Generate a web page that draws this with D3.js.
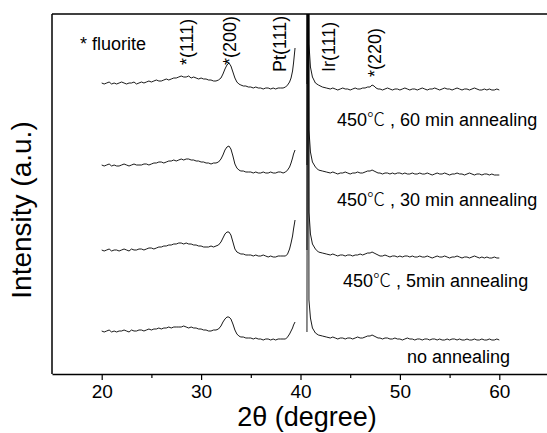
<!DOCTYPE html>
<html>
<head>
<meta charset="utf-8">
<script src="https://cdn.jsdelivr.net/npm/d3@7"></script>
<style>
  body { margin: 0; background: #fff; }
  text { font-family: Arial, "Liberation Sans", "Noto Sans CJK SC", sans-serif; fill: #000; }
</style>
</head>
<body>
<svg id="chart" width="547" height="433"></svg>
<script>
// 2theta grids (degree): low-angle part up to Pt(111), high-angle part from Ir(111)
var twoThetaLow = [
  20, 20.25, 20.5, 20.75, 21, 21.25, 21.5, 21.75, 22, 22.25, 22.5, 22.75, 23, 23.25, 23.5, 23.75,
  24, 24.25, 24.5, 24.75, 25, 25.25, 25.5, 25.75, 26, 26.25, 26.5, 26.75, 27, 27.25, 27.5, 27.75,
  28, 28.25, 28.5, 28.75, 29, 29.25, 29.5, 29.75, 30, 30.25, 30.5, 30.75, 31, 31.25, 31.5, 31.75,
  32,
  32.2, 32.4, 32.6, 32.8, 33.0, 33.2, 33.4, 33.6, 33.8, 34.0, 34.25, 34.5, 34.75,
  35, 35.25, 35.5, 35.75, 36, 36.25, 36.5, 36.75, 37, 37.25, 37.5, 37.75, 38, 38.25, 38.5,
  38.7, 38.9, 39.05, 39.2, 39.3, 39.45];
var twoThetaHigh = [
  40.65, 40.75, 40.85, 41.0, 41.2, 41.5, 41.8, 42.2, 42.6,
  43, 43.25, 43.5, 43.75, 44, 44.25, 44.5, 44.75, 45, 45.25, 45.5, 45.75, 46, 46.25, 46.5, 46.75,
  47, 47.2, 47.4, 47.6, 47.8,
  48, 48.25, 48.5, 48.75, 49, 49.25, 49.5, 49.75, 50, 50.25, 50.5, 50.75, 51, 51.25, 51.5, 51.75,
  52, 52.25, 52.5, 52.75, 53, 53.25, 53.5, 53.75, 54, 54.25, 54.5, 54.75, 55, 55.25, 55.5, 55.75,
  56, 56.25, 56.5, 56.75, 57, 57.25, 57.5, 57.75, 58, 58.25, 58.5, 58.75, 59, 59.25, 59.5, 59.75,
  60];

// intensity (a.u., stacked) for each sample
var min60Low = [
  291, 290, 291, 292, 290, 291, 290, 291, 292, 291, 290, 291, 291, 292, 290, 291,
  292, 291, 292, 293, 292, 293, 294, 293, 293, 294, 295, 294, 295, 296, 296, 297,
  298, 297, 297, 298, 296, 297, 296, 295, 296, 295, 295, 294, 294, 293, 293, 294,
  296,
  300, 305, 309, 311, 308, 302, 296, 292, 290, 289, 288, 288, 287,
  287, 286, 287, 286, 286, 285, 286, 286, 285, 286, 285, 286, 286, 286, 287,
  289, 292, 296, 303, 311, 326];
var min60High = [
  290, 900, 330, 307, 297, 291, 289, 287, 286,
  285, 286, 285, 284, 285, 286, 285, 285, 284, 285, 286, 285, 285, 286, 286, 287,
  287, 289, 288, 286, 285,
  285, 284, 285, 286, 285, 284, 285, 285, 284, 285, 286, 285, 284, 285, 285, 284,
  285, 286, 285, 284, 285, 285, 286, 285, 284, 285, 286, 285, 285, 284, 285, 286,
  285, 284, 285, 285, 284, 285, 286, 285, 284, 284, 285, 284, 285, 284, 284, 285,
  284];

var min30Low = [
  209, 208, 209, 210, 208, 209, 208, 208, 209, 210, 209, 208, 209, 210, 209, 209,
  209, 210, 210, 209, 210, 211, 211, 212, 212, 211, 212, 213, 213, 214, 213, 214,
  215, 214, 215, 215, 214, 214, 213, 213, 212, 212, 211, 211, 210, 211, 211, 212,
  215,
  219, 224, 227, 228, 225, 218, 210, 206, 204, 203, 203, 202, 202,
  202, 201, 202, 201, 201, 202, 201, 201, 202, 201, 201, 202, 202, 201, 202,
  204, 207, 211, 216, 220, 224];
var min30High = [
  209, 900, 244, 222, 212, 207, 204, 203, 202,
  201, 202, 201, 200, 201, 201, 202, 201, 200, 201, 201, 202, 201, 201, 202, 203,
  203, 204, 203, 202, 201,
  201, 200, 201, 201, 200, 201, 200, 201, 201, 200, 201, 200, 200, 201, 200, 200,
  201, 200, 200, 201, 200, 199, 200, 201, 200, 200, 201, 200, 199, 200, 200, 201,
  200, 200, 199, 200, 201, 200, 199, 200, 200, 199, 200, 200, 199, 200, 199, 199,
  199];

var min5Low = [
  124, 123, 124, 125, 123, 124, 124, 123, 124, 125, 124, 123, 125, 124, 124, 125,
  125, 124, 125, 126, 126, 125, 126, 127, 127, 128, 128, 129, 129, 130, 130, 131,
  131, 130, 131, 130, 130, 129, 129, 128, 128, 127, 127, 127, 128, 127, 128, 129,
  132,
  136, 140, 142, 142, 139, 132, 125, 122, 121, 120, 120, 119, 119,
  119, 118, 119, 118, 118, 119, 118, 117, 118, 117, 117, 118, 118, 118, 118,
  120, 125, 131, 138, 145, 154];
var min5High = [
  124, 900, 162, 140, 130, 125, 122, 121, 120,
  119, 120, 119, 118, 119, 119, 118, 119, 119, 118, 119, 119, 120, 119, 120, 121,
  121, 122, 121, 120, 119,
  118, 118, 119, 118, 117, 118, 118, 117, 118, 117, 118, 118, 117, 118, 117, 117,
  118, 117, 117, 118, 117, 116, 117, 118, 117, 117, 118, 117, 116, 117, 117, 118,
  117, 116, 117, 117, 116, 117, 118, 117, 116, 117, 116, 117, 116, 116, 117, 116,
  116];

var noAnnealLow = [
  43, 42, 43, 44, 42, 43, 42, 43, 43, 44, 43, 42, 44, 43, 43, 44,
  44, 43, 44, 45, 44, 45, 45, 46, 45, 46, 46, 47, 46, 47, 47, 47,
  47, 48, 47, 46, 47, 46, 46, 45, 45, 44, 44, 43, 43, 44, 44, 45,
  48,
  52, 55, 57, 57, 55, 50, 44, 40, 38, 37, 37, 36, 36,
  36, 35, 36, 35, 35, 34, 35, 35, 34, 35, 34, 35, 35, 35, 35,
  37, 40, 43, 46, 49, 52];
var noAnnealHigh = [
  42, 900, 74, 56, 46, 41, 39, 38, 37,
  36, 37, 36, 35, 36, 36, 35, 36, 36, 35, 36, 37, 36, 36, 37, 38,
  38, 39, 38, 37, 36,
  36, 35, 36, 36, 35, 35, 36, 35, 35, 34, 35, 36, 35, 35, 34, 35,
  35, 34, 35, 35, 34, 35, 35, 34, 35, 34, 34, 35, 34, 35, 35, 34,
  35, 34, 34, 35, 34, 34, 35, 34, 34, 35, 34, 34, 35, 34, 34, 35,
  34];

var sampleLabels = [", 60 min annealing", ", 30 min annealing", ", 5min annealing", "no annealing"];
var samplePrefix = ["450", "450", "450", ""];
var peakLabels = ["*(111)", "*(200)", "Pt(111)", "Ir(111)", "*(220)"];
var majorTicks = [20, 30, 40, 50, 60];
var minorTicks = [25, 35, 45, 55];

var svg = d3.select("#chart");
var padLeft = 52, padTop = 14, plotRight = 549, plotBottom = 374;

var x = d3.scaleLinear().domain([15, 65]).range([padLeft, plotRight]);
var y = d3.scaleLinear().domain([0, 360]).range([plotBottom, padTop]);

svg.append("defs").append("clipPath").attr("id", "plot-clip")
  .append("rect").attr("x", padLeft).attr("y", padTop)
  .attr("width", 547 - padLeft).attr("height", plotBottom - padTop);

// traces
var line = d3.line()
  .x(function(d) { return x(d[0]); })
  .y(function(d) { return y(d[1]); });

var traces = [
  [min60Low, min60High],
  [min30Low, min30High],
  [min5Low, min5High],
  [noAnnealLow, noAnnealHigh]
];

var plot = svg.append("g").attr("clip-path", "url(#plot-clip)");
traces.forEach(function(t) {
  plot.append("path")
    .attr("d", line(d3.zip(twoThetaLow, t[0])))
    .attr("fill", "none").attr("stroke", "#000").attr("stroke-width", 0.9);
  plot.append("path")
    .attr("d", line(d3.zip(twoThetaHigh, t[1])))
    .attr("fill", "none").attr("stroke", "#000").attr("stroke-width", 0.9);
});

// frame
svg.append("line")
  .attr("x1", padLeft).attr("x2", 547).attr("y1", padTop).attr("y2", padTop)
  .attr("stroke", "#000").attr("stroke-width", 1.5);
svg.append("line")
  .attr("x1", padLeft).attr("x2", padLeft).attr("y1", padTop).attr("y2", plotBottom)
  .attr("stroke", "#000").attr("stroke-width", 1.5);

// x axis
var xAxis = svg.append("g")
  .attr("transform", "translate(0," + plotBottom + ")")
  .call(d3.axisBottom(x).tickValues(majorTicks).tickSize(6).tickSizeOuter(0).tickPadding(5));
xAxis.select(".domain").attr("stroke-width", 1.5);
xAxis.selectAll(".tick line").attr("stroke-width", 1.2);
xAxis.selectAll(".tick text").style("font-size", "19px")
  .style("font-family", "Arial, 'Liberation Sans', sans-serif");

var minorAxis = svg.append("g")
  .attr("transform", "translate(0," + plotBottom + ")")
  .call(d3.axisBottom(x).tickValues(minorTicks).tickSize(4).tickSizeOuter(0).tickFormat(""));
minorAxis.select(".domain").remove();
minorAxis.selectAll(".tick line").attr("stroke-width", 1.2);

// axis titles
svg.append("text")
  .attr("x", 307).attr("y", 426)
  .attr("text-anchor", "middle")
  .style("font-size", "27px")
  .text("2\u03b8 (degree)");

svg.append("text")
  .attr("transform", "translate(31,210) rotate(-90)")
  .attr("text-anchor", "middle")
  .style("font-size", "28px")
  .text("Intensity (a.u.)");

// annotations
svg.append("text").attr("x", 80).attr("y", 50)
  .style("font-size", "18px").text("* fluorite");

var peakPos = [[193, 65], [236, 65], [286, 72], [335, 72], [381, 77]];
peakLabels.forEach(function(lbl, i) {
  svg.append("text")
    .attr("transform", "translate(" + peakPos[i][0] + "," + peakPos[i][1] + ") rotate(-90)")
    .style("font-size", "18px")
    .text(lbl);
});

var labelPos = [[337, 126], [337, 206], [343, 287], [407, 363]];
sampleLabels.forEach(function(lbl, i) {
  var t = svg.append("text")
    .attr("x", labelPos[i][0]).attr("y", labelPos[i][1])
    .style("font-size", "18px");
  if (samplePrefix[i]) {
    t.append("tspan").text(samplePrefix[i]);
    t.append("tspan").style("font-family", "'Noto Sans CJK SC', sans-serif")
      .style("font-weight", 300).text("\u2103");
    t.append("tspan").text(" " + lbl);
  } else {
    t.text(lbl);
  }
});
</script>
</body>
</html>
